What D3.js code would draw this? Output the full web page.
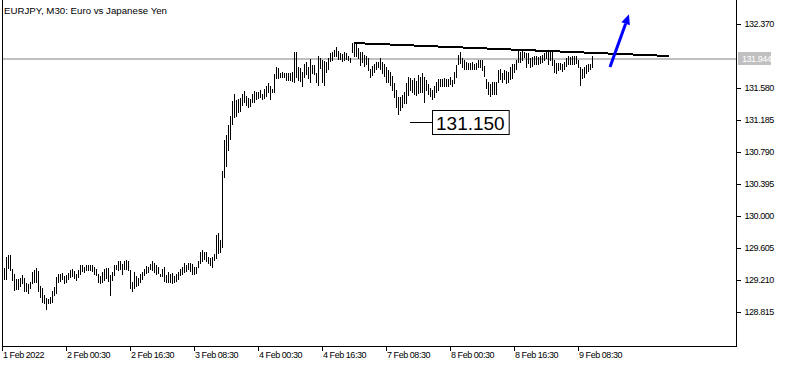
<!DOCTYPE html>
<html>
<head>
<meta charset="utf-8">
<script src="https://cdn.jsdelivr.net/npm/d3@7/dist/d3.min.js"></script>
<style>
  body { margin: 0; background: #ffffff; }
  svg { display: block; }
  text { font-family: 'Liberation Sans', Arial, sans-serif; }
</style>
</head>
<body>
<div id="chart"></div>
<script>
const title = 'EURJPY, M30:  Euro vs Japanese Yen'

// M30 bars, first one is bar #1 (bar #0 = 1 Feb 2022 08:30 sits on the frame)
const FIRST_BAR = 1
const highs = [
  129.36, 129.49, 129.52, 129.52, 129.35, 129.28, 129.22, 129.22, 129.24, 129.27,
  129.24, 129.17, 129.16, 129.18, 129.31, 129.33, 129.36, 129.32, 129.13, 129.11,
  129.02, 128.99, 128.98, 129.00, 129.07, 129.12, 129.25, 129.29, 129.29, 129.30,
  129.26, 129.27, 129.30, 129.33, 129.35, 129.32, 129.29, 129.33, 129.39, 129.39,
  129.37, 129.39, 129.40, 129.40, 129.39, 129.37, 129.35, 129.29, 129.26, 129.31,
  129.35, 129.36, 129.36, 129.27, 129.31, 129.39, 129.40, 129.44, 129.44, 129.41,
  129.44, 129.46, 129.44, 129.33, 129.19, 129.31, 129.26, 129.23, 129.29, 129.31,
  129.34, 129.38, 129.37, 129.41, 129.44, 129.42, 129.40, 129.37, 129.29, 129.34,
  129.37, 129.27, 129.31, 129.29, 129.30, 129.26, 129.29, 129.31, 129.35, 129.37,
  129.42, 129.40, 129.42, 129.42, 129.41, 129.37, 129.37, 129.44, 129.56, 129.58,
  129.55, 129.56, 129.50, 129.48, 129.50, 129.53, 129.77, 129.79, 129.70, 130.55,
  130.94, 131.00, 131.12, 131.23, 131.42, 131.51, 131.43, 131.45, 131.46, 131.50,
  131.54, 131.48, 131.46, 131.45, 131.51, 131.54, 131.53, 131.53, 131.56, 131.50,
  131.57, 131.60, 131.64, 131.61, 131.57, 131.75, 131.84, 131.83, 131.77, 131.78,
  131.76, 131.77, 131.77, 131.77, 131.78, 132.02, 132.02, 131.84, 131.83, 131.78,
  131.88, 131.90, 131.84, 131.94, 131.86, 131.86, 131.76, 131.97, 131.95, 131.93,
  131.91, 131.90, 131.95, 132.01, 132.02, 132.05, 132.09, 132.04, 132.01, 132.00,
  132.02, 132.01, 131.97, 131.95, 132.14, 132.13, 132.13, 132.07, 132.02, 132.02,
  131.99, 131.97, 131.95, 131.82, 131.85, 131.88, 131.90, 131.90, 131.95, 131.90,
  131.88, 131.84, 131.80, 131.78, 131.73, 131.64, 131.56, 131.47, 131.47, 131.49,
  131.53, 131.64, 131.72, 131.70, 131.68, 131.70, 131.67, 131.74, 131.72, 131.76,
  131.72, 131.68, 131.63, 131.58, 131.55, 131.60, 131.65, 131.69, 131.69, 131.69,
  131.70, 131.69, 131.69, 131.71, 131.68, 131.78, 131.86, 131.99, 132.02, 131.95,
  131.92, 131.90, 131.89, 131.89, 131.90, 131.88, 131.89, 131.92, 131.93, 131.92,
  131.85, 131.69, 131.65, 131.63, 131.66, 131.66, 131.66, 131.80, 131.82, 131.77,
  131.80, 131.79, 131.78, 131.84, 131.88, 131.88, 131.92, 132.04, 132.03, 132.04,
  132.03, 132.01, 132.01, 131.95, 131.96, 131.97, 131.97, 131.96, 131.97, 131.99,
  132.01, 132.03, 132.03, 132.02, 132.03, 131.92, 131.89, 131.89, 131.89, 131.88,
  131.90, 131.95, 131.97, 131.96, 131.97, 131.97, 131.97, 131.92, 131.84, 131.82,
  131.84, 131.86, 131.88, 131.88, 131.97
]
const lows = [
  129.22, 129.22, 129.36, 129.33, 129.21, 129.09, 129.10, 129.10, 129.13, 129.17,
  129.07, 129.07, 129.05, 129.11, 129.17, 129.19, 129.19, 129.07, 129.00, 128.94,
  128.93, 128.85, 128.92, 128.93, 128.94, 129.03, 129.05, 129.19, 129.20, 129.22,
  129.17, 129.19, 129.22, 129.25, 129.26, 129.23, 129.21, 129.25, 129.29, 129.32,
  129.31, 129.33, 129.33, 129.33, 129.32, 129.29, 129.27, 129.19, 129.17, 129.19,
  129.21, 129.23, 129.20, 129.02, 129.21, 129.27, 129.34, 129.33, 129.34, 129.29,
  129.34, 129.35, 129.33, 129.11, 129.07, 129.11, 129.13, 129.15, 129.19, 129.22,
  129.27, 129.30, 129.31, 129.34, 129.33, 129.31, 129.29, 129.30, 129.26, 129.26,
  129.20, 129.19, 129.18, 129.18, 129.17, 129.18, 129.20, 129.22, 129.27, 129.29,
  129.31, 129.32, 129.35, 129.32, 129.29, 129.28, 129.30, 129.37, 129.42, 129.44,
  129.47, 129.44, 129.42, 129.40, 129.37, 129.46, 129.48, 129.54, 129.55, 129.62,
  130.48, 130.62, 130.81, 130.95, 131.14, 131.22, 131.23, 131.28, 131.30, 131.37,
  131.41, 131.37, 131.35, 131.36, 131.41, 131.41, 131.45, 131.46, 131.47, 131.44,
  131.46, 131.48, 131.53, 131.45, 131.53, 131.53, 131.70, 131.70, 131.72, 131.72,
  131.71, 131.68, 131.68, 131.68, 131.67, 131.66, 131.71, 131.68, 131.67, 131.60,
  131.72, 131.75, 131.70, 131.66, 131.76, 131.75, 131.66, 131.62, 131.83, 131.66,
  131.62, 131.78, 131.81, 131.91, 131.93, 131.97, 131.98, 131.94, 131.94, 131.91,
  131.93, 131.94, 131.93, 131.90, 132.03, 131.98, 131.97, 131.95, 131.86, 131.90,
  131.85, 131.88, 131.80, 131.71, 131.74, 131.78, 131.81, 131.84, 131.82, 131.76,
  131.73, 131.66, 131.66, 131.62, 131.56, 131.47, 131.35, 131.26, 131.31, 131.35,
  131.39, 131.39, 131.49, 131.56, 131.53, 131.51, 131.49, 131.52, 131.53, 131.53,
  131.41, 131.56, 131.51, 131.48, 131.44, 131.47, 131.53, 131.56, 131.60, 131.60,
  131.60, 131.60, 131.60, 131.63, 131.60, 131.64, 131.72, 131.88, 131.89, 131.84,
  131.81, 131.82, 131.82, 131.82, 131.82, 131.81, 131.82, 131.84, 131.84, 131.80,
  131.73, 131.58, 131.51, 131.48, 131.51, 131.51, 131.51, 131.66, 131.69, 131.66,
  131.69, 131.64, 131.65, 131.69, 131.70, 131.78, 131.82, 131.90, 131.90, 131.93,
  131.96, 131.84, 131.89, 131.84, 131.85, 131.88, 131.88, 131.88, 131.89, 131.90,
  131.92, 131.95, 131.88, 131.92, 131.86, 131.78, 131.76, 131.80, 131.81, 131.79,
  131.81, 131.85, 131.88, 131.88, 131.88, 131.88, 131.89, 131.84, 131.62, 131.70,
  131.72, 131.76, 131.79, 131.81, 131.84
]

const priceTicks = [132.370, 131.580, 131.185, 130.790, 130.395, 130.000, 129.605, 129.210, 128.815]
const timeTickBars = [0, 32, 64, 96, 128, 160, 192, 224, 256, 288]
const timeTickLabels = [
  '1 Feb 2022', '2 Feb 00:30', '2 Feb 16:30', '3 Feb 08:30', '4 Feb 00:30',
  '4 Feb 16:30', '7 Feb 08:30', '8 Feb 00:30', '8 Feb 16:30', '9 Feb 08:30'
]

const bidPrice = 131.944
// objects drawn on the chart: [bar, price]
const trendLine = [[176, 132.135], [333.5, 131.975]]
const arrowLine = [[304, 131.84], [313.5, 132.49]]
const priceLabel = { bar: 204, price: 131.150 }

const W = 789
const H = 366
const LEFT = 2
const RIGHT = 736
const BOTTOM = 346
const AXIS_FONT = 9

const x = d3.scaleLinear().domain([0, 367]).range([LEFT, LEFT + 734])
const y = d3.scaleLinear().domain([128.815, 132.370]).range([312, 24])

const svg = d3.select('#chart').append('svg').attr('width', W).attr('height', H)

svg.append('rect').attr('width', W).attr('height', H).attr('fill', '#ffffff')

// bid line
svg
  .append('rect')
  .attr('x', LEFT)
  .attr('y', Math.round(y(bidPrice)) - 1)
  .attr('width', RIGHT - LEFT)
  .attr('height', 2)
  .attr('fill', '#c0c0c0')

// bars (high-low)
const bars = svg.append('g').attr('shape-rendering', 'crispEdges')
highs.forEach((h, i) => {
  const top = Math.round(y(h))
  const bot = Math.round(y(lows[i]))
  bars
    .append('rect')
    .attr('x', Math.round(x(i + FIRST_BAR)))
    .attr('y', top)
    .attr('width', 1)
    .attr('height', Math.max(1, bot - top + 1))
    .attr('fill', '#000000')
})

// trend line
svg
  .append('line')
  .attr('x1', x(trendLine[0][0]))
  .attr('y1', y(trendLine[0][1]))
  .attr('x2', x(trendLine[1][0]))
  .attr('y2', y(trendLine[1][1]))
  .attr('stroke', '#000000')
  .attr('stroke-width', 2)
  .attr('shape-rendering', 'crispEdges')

// blue arrow
const ax1 = x(arrowLine[0][0])
const ay1 = y(arrowLine[0][1])
const ax2 = x(arrowLine[1][0])
const ay2 = y(arrowLine[1][1])
const ang = Math.atan2(ay2 - ay1, ax2 - ax1)
const headLen = 10
const headW = 4.5
const bx = ax2 - headLen * Math.cos(ang)
const by = ay2 - headLen * Math.sin(ang)
svg
  .append('line')
  .attr('x1', ax1)
  .attr('y1', ay1)
  .attr('x2', bx)
  .attr('y2', by)
  .attr('stroke', '#0000ff')
  .attr('stroke-width', 3)
svg
  .append('path')
  .attr(
    'd',
    `M${ax2},${ay2}L${bx + headW * Math.sin(ang)},${by - headW * Math.cos(ang)}L${bx - headW * Math.sin(ang)},${by + headW * Math.cos(ang)}Z`
  )
  .attr('fill', '#0000ff')

// price label 131.150
const ly = Math.round(y(priceLabel.price)) - 0.5
const lx = x(priceLabel.bar)
svg
  .append('line')
  .attr('x1', lx)
  .attr('x2', lx + 22)
  .attr('y1', ly)
  .attr('y2', ly)
  .attr('stroke', '#000000')
  .attr('stroke-width', 1)
const labelText = svg
  .append('text')
  .attr('x', lx + 26)
  .attr('y', ly + 7)
  .attr('font-size', 19)
  .attr('fill', '#000000')
  .text(d3.format('.3f')(priceLabel.price))
const tw = labelText.node().getComputedTextLength()
svg
  .insert('rect', 'text')
  .attr('x', lx + 22.5)
  .attr('y', ly - 12)
  .attr('width', tw + 8)
  .attr('height', 24)
  .attr('fill', '#ffffff')
  .attr('stroke', '#000000')
  .attr('stroke-width', 1)

// frame
const frame = svg.append('g').attr('shape-rendering', 'crispEdges').attr('fill', '#000000')
frame.append('rect').attr('x', LEFT).attr('y', 0).attr('width', 1).attr('height', BOTTOM + 1)
frame.append('rect').attr('x', RIGHT).attr('y', 0).attr('width', 1).attr('height', BOTTOM + 1)
frame.append('rect').attr('x', LEFT).attr('y', BOTTOM).attr('width', RIGHT - LEFT + 1).attr('height', 1)

// price axis
const yAxis = svg
  .append('g')
  .attr('transform', `translate(${RIGHT + 0.5},0)`)
  .call(d3.axisRight(y).tickValues(priceTicks).tickSize(4).tickPadding(4).tickFormat(d3.format('.3f')))
yAxis.select('.domain').remove()
yAxis.selectAll('.tick line').attr('stroke', '#000000').attr('shape-rendering', 'crispEdges')
yAxis
  .selectAll('.tick text')
  .attr('font-family', "'Liberation Sans', Arial, sans-serif")
  .attr('font-size', AXIS_FONT)
  .attr('letter-spacing', -0.45)
  .attr('fill', '#000000')

// bid label on scale
const bidY = Math.round(y(bidPrice))
svg
  .append('rect')
  .attr('x', RIGHT + 2)
  .attr('y', bidY - 7)
  .attr('width', 33)
  .attr('height', 13)
  .attr('fill', '#c0c0c0')
svg
  .append('text')
  .attr('x', RIGHT + 6)
  .attr('y', bidY + 3)
  .attr('font-size', AXIS_FONT)
  .attr('letter-spacing', -0.45)
  .attr('fill', '#ffffff')
  .text(d3.format('.3f')(bidPrice))

// time axis
const xAxis = svg
  .append('g')
  .attr('transform', `translate(0,${BOTTOM + 0.5})`)
  .call(
    d3
      .axisBottom(x)
      .tickValues(timeTickBars)
      .tickSize(4)
      .tickFormat((d, i) => timeTickLabels[i])
  )
xAxis.select('.domain').remove()
xAxis.selectAll('.tick line').attr('stroke', '#000000').attr('shape-rendering', 'crispEdges')
xAxis
  .selectAll('.tick text')
  .attr('font-family', "'Liberation Sans', Arial, sans-serif")
  .attr('font-size', AXIS_FONT)
  .attr('letter-spacing', -0.45)
  .attr('fill', '#000000')
  .attr('text-anchor', 'start')
  .attr('x', 0.5)
  .attr('dy', null)
  .attr('y', 11)

// title
svg
  .append('text')
  .attr('x', 4)
  .attr('y', 13.5)
  .attr('font-size', 9.7)
  .attr('fill', '#000000')
  .text(title)
</script>
</body>
</html>
